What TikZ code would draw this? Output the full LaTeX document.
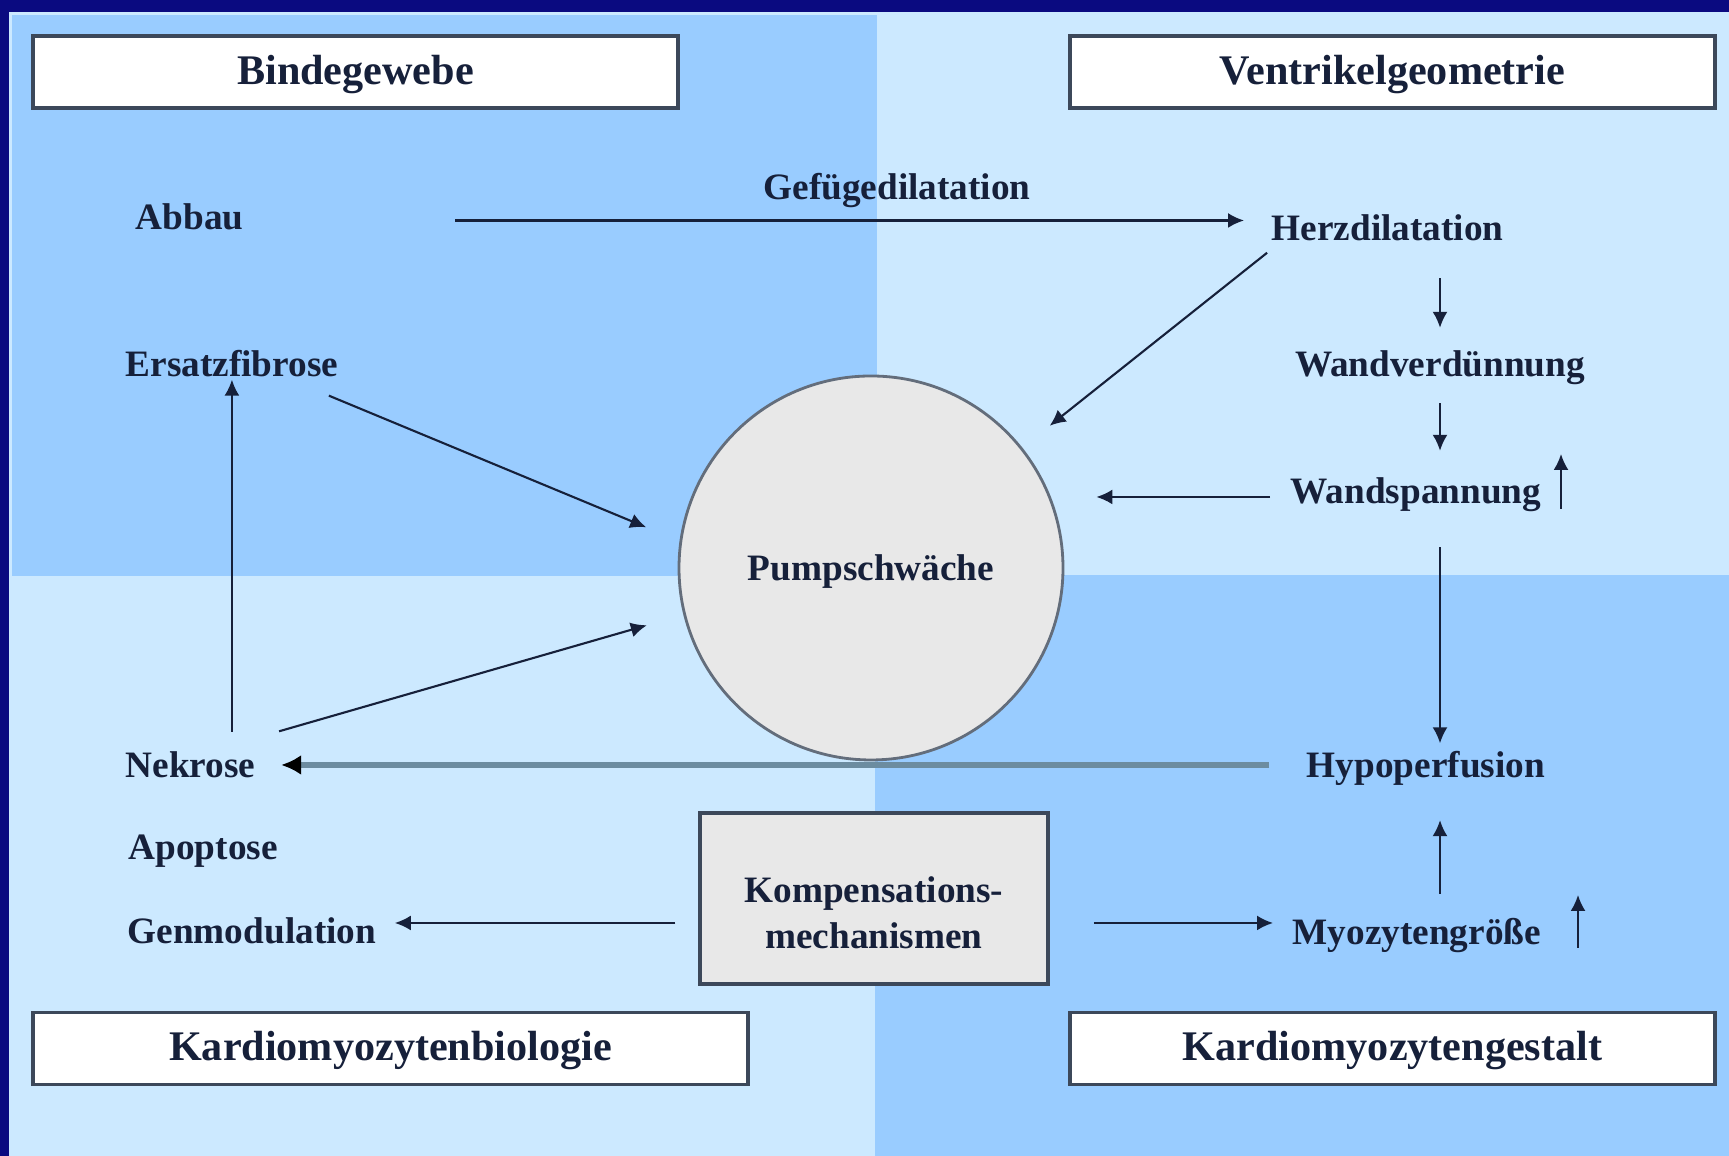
\documentclass[tikz,border=0pt]{standalone}
\usepackage{fontspec}
\setmainfont{Liberation Serif}
\usepackage{xcolor}
\usetikzlibrary{shapes,arrows.meta,positioning,calc}

\definecolor{slidenavy}{RGB}{10,10,128}
\definecolor{quaddark}{RGB}{153,204,255}
\definecolor{quadlight}{RGB}{204,233,255}
\definecolor{inkblue}{RGB}{22,32,58}
\definecolor{boxedge}{RGB}{60,72,90}
\definecolor{pumpgray}{RGB}{232,232,232}
\definecolor{flowgray}{RGB}{108,140,160}

\tikzset{
  lbl/.style={font=\fontsize{10.6}{13}\selectfont\bfseries, text=inkblue, inner sep=0pt, text height=2.1ex, text depth=0.5ex},
  headbox/.style={draw=boxedge, line width=1.1pt, fill=white, minimum width=6.45cm, minimum height=0.72cm, text height=1.9ex, text depth=0.4ex, font=\fontsize{12}{14}\selectfont\bfseries, text=inkblue},
  conn/.style={draw=inkblue, line width=0.6pt, -{Latex[length=1.6mm,width=1.5mm]}},
}

\begin{document}
\begin{tikzpicture}
    \useasboundingbox (0,0) rectangle (17.29,11.56);
    % Background quadrants
    \fill [slidenavy] (0,0) rectangle (17.29,11.56);
    \fill [quadlight] (0.09,0) rectangle (17.29,11.44);
    \fill [quaddark] (0.12,5.80) rectangle (8.77,11.41);
    \fill [quaddark] (8.75,0) rectangle (17.29,5.81);

    % Headings
    \node [headbox] (binde) at (3.555,10.84) {Bindegewebe};
    \node [headbox] (ventr) at (13.925,10.84) {Ventrikelgeometrie};
    \node [headbox, minimum width=7.15cm] (kbio) at (3.905,1.075) {Kardiomyozytenbiologie};
    \node [headbox] (kgest) at (13.925,1.075) {Kardiomyozytengestalt};

    % Centre
    \node [lbl, circle, draw=boxedge!80, line width=0.8pt, fill=pumpgray, minimum size=3.84cm] (pump) at (8.71,5.88) {Pumpschwäche};
    \node [draw=boxedge, line width=1pt, fill=pumpgray, minimum width=3.48cm, minimum height=1.71cm, align=center, font=\fontsize{10.6}{13}\selectfont\bfseries, text=inkblue] (komp) at (8.74,2.575) {\rule{0pt}{0.54cm}Kompensations-\\mechanismen};

    % Labels
    \node [lbl, anchor=west] (abbau) at (1.35,9.39) {Abbau};
    \node [lbl] (gefuege) at (8.97,9.69) {Gefügedilatation};
    \node [lbl, anchor=west] (herz) at (12.71,9.28) {Herzdilatation};
    \node [lbl, anchor=west] (ersatz) at (1.25,7.92) {Ersatzfibrose};
    \node [lbl] (wandv) at (14.40,7.92) {Wandverdünnung};
    \node [lbl, anchor=west] (wandsp) at (12.90,6.65) {Wandspannung};
    \node [lbl, anchor=west] (nekrose) at (1.25,3.91) {Nekrose};
    \node [lbl] (hypo) at (14.26,3.91) {Hypoperfusion};
    \node [lbl, anchor=west] (apopt) at (1.28,3.09) {Apoptose};
    \node [lbl, anchor=west] (genmod) at (1.27,2.25) {Genmodulation};
    \node [lbl, anchor=west] (myo) at (12.92,2.24) {Myozytengröße};

    % Increase marks
    \coordinate (wsup) at (15.61,6.47);
    \coordinate (mgup) at (15.78,2.08);

    % Connectors
    \draw [conn, shorten <=2.11cm, shorten >=0.27cm] ($(abbau.east)+(0,-0.035)$) -- ($(abbau.east -| herz.west)+(0,-0.035)$);
    \draw [conn, shorten <=0.05cm, shorten >=0.35cm] (herz.south west) -- (pump);
    \draw [conn, shorten <=0.285cm, shorten >=0.145cm] (wandv |- herz.south) -- (wandv.north);
    \draw [conn, shorten <=0.175cm, shorten >=0.185cm] (wandv.south) -- (wandv |- wandsp.north);
    \draw [conn, shorten <=0.20cm, shorten >=0.32cm] ($(wandsp.west)+(0,-0.06)$) -- ($(wandsp.west -| pump.east)+(0,-0.06)$);
    \draw [conn, shorten <=0.345cm] (wandv |- wandsp.south) -- (wandv |- hypo.north);
    \draw [conn, draw=flowgray, line width=1.8pt, -{Latex[length=2mm,width=2mm,color=black]}, shorten <=0.37cm, shorten >=0.25cm] (hypo.west) -- (hypo.west -| nekrose.east);
    \draw [conn, shorten >=0.36cm] ($(ersatz.south east)+(-0.1,-0.1)$) -- (pump.172);
    \draw [conn, shorten >=0.38cm] ($(nekrose.north east)+(0.23,0.12)$) -- (pump.194);
    \draw [conn, shorten <=0.115cm, shorten >=-0.06cm] (nekrose.north -| ersatz.south) -- (ersatz.south);
    \draw [conn, shorten <=0.23cm, shorten >=0.18cm] ($(komp.west |- genmod.east)+(0,0.08)$) -- ($(genmod.east)+(0,0.08)$);
    \draw [conn, shorten <=0.44cm, shorten >=0.19cm] ($(komp.east |- myo.west)+(0,0.09)$) -- ($(myo.west)+(0,0.09)$);
    \draw [conn, shorten <=0.165cm, shorten >=0.335cm] (wandv |- myo.north) -- (wandv |- hypo.south);
    \draw [conn] (wsup) -- ++(0,0.55);
    \draw [conn] (mgup) -- ++(0,0.53);
\end{tikzpicture}
\end{document}
